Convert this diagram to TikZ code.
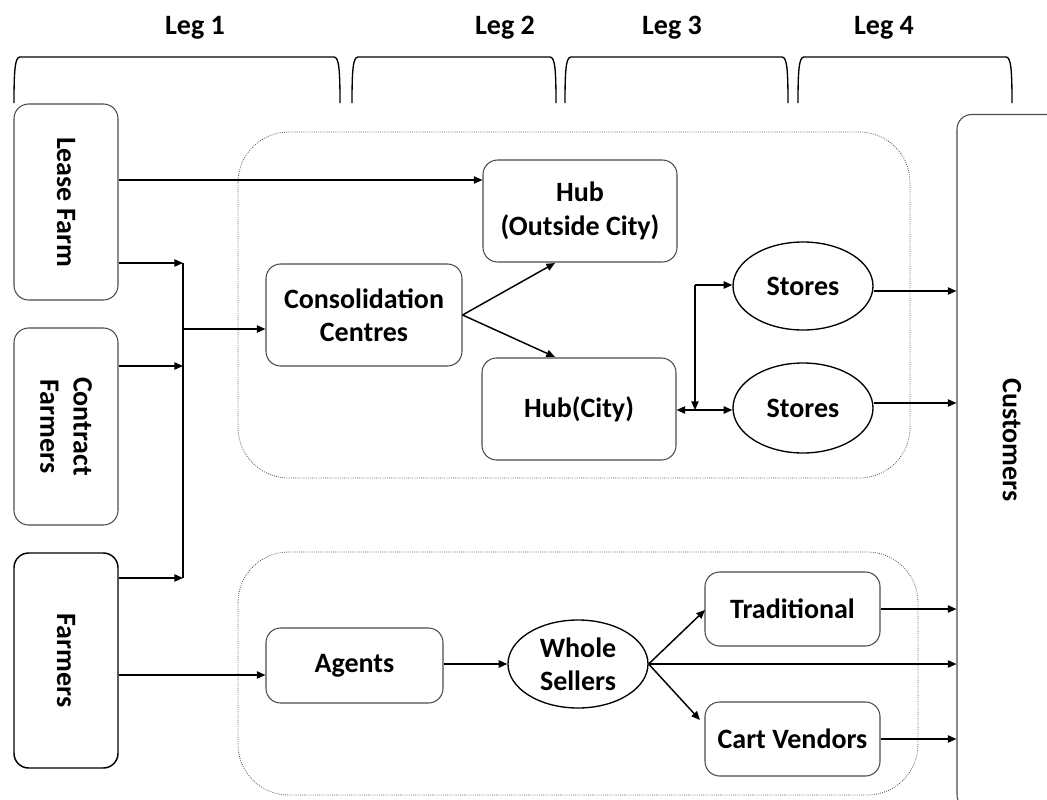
\documentclass[tikz,border=0pt]{standalone}
\usepackage{fontspec}
\setmainfont{Carlito}
\usetikzlibrary{arrows.meta,shapes.geometric}
\begin{document}
\begin{tikzpicture}[x=0.75pt,y=-0.75pt,
  every node/.style={font=\bfseries\fontsize{21}{25}\selectfont, align=center, inner sep=0pt},
  rbox/.style={draw=black!70, line width=0.8pt, rounded corners=11pt, rectangle},
  ell/.style={draw=black, line width=1pt, ellipse},
  grp/.style={draw=black!70, densely dotted, line width=0.6pt, rounded corners=38pt},
  brace/.style={draw=black, line width=1pt},
  arr/.style={draw=black, line width=1.1pt, -{Triangle[length=6.5pt,width=5.5pt]}},
  darr/.style={draw=black, line width=1.1pt, {Triangle[length=6.5pt,width=5.5pt]}-{Triangle[length=6.5pt,width=5.5pt]}}]
\useasboundingbox (0,0) rectangle (1047,800);
\clip (0,0) rectangle (1047,800);
% leg labels
\node (leg1) at (195,28) {Leg 1};
\node (leg2) at (505,28) {Leg 2};
\node (leg3) at (672,28) {Leg 3};
\node (leg4) at (884,28) {Leg 4};
% braces
\foreach \a/\b in {14/340, 352/556, 565/788, 798/1012}{
  \draw[brace] (\a,103) .. controls (\a,70) and (\a+1,57) .. (\a+6,57) -- (\b-6,57) .. controls (\b-1,57) and (\b,70) .. (\b,103);
}
% group boxes
\draw[grp] (238,132) rectangle (910,478);
\draw[grp] (238,552) rectangle (918,795);
% left sources
\node[rbox, minimum width=104*0.75pt, minimum height=196*0.75pt] (lease) at (66,202) {};
\node[rotate=-90] at (66,202) {Lease Farm};
\node[rbox, minimum width=104*0.75pt, minimum height=197*0.75pt] (contract) at (66,426.5) {};
\node[rotate=-90] at (66,426.5) {Contract\\Farmers};
\node[rbox, draw=black, line width=1.1pt, minimum width=104*0.75pt, minimum height=215*0.75pt] (farmers) at (66,660.5) {};
\node[rotate=-90] at (66,660.5) {Farmers};
% customers
\node[rbox, minimum width=130*0.75pt, minimum height=695*0.75pt] (cust) at (1022,462) {};
\node[rotate=-90] at (1012,440) {Customers};
% top group nodes
\node[rbox, minimum width=194*0.75pt, minimum height=102*0.75pt] (hubo) at (580,211) {Hub\\(Outside City)};
\node[rbox, minimum width=196*0.75pt, minimum height=102*0.75pt] (cons) at (364,315) {Consolidation\\Centres};
\node[rbox, minimum width=194*0.75pt, minimum height=102*0.75pt] (hubc) at (579,409) {Hub(City)};
\node[ell, minimum width=140*0.75pt, minimum height=88*0.75pt] (st1) at (803,286) {Stores};
\node[ell, minimum width=140*0.75pt, minimum height=90*0.75pt] (st2) at (803,408) {Stores};
% bottom group nodes
\node[rbox, minimum width=177*0.75pt, minimum height=75*0.75pt] (agents) at (354.5,665.5) {Agents};
\node[ell, minimum width=140*0.75pt, minimum height=88*0.75pt] (whole) at (578,664) {Whole\\Sellers};
\node[rbox, minimum width=175*0.75pt, minimum height=74*0.75pt] (trad) at (792.5,609) {Traditional};
\node[rbox, minimum width=175*0.75pt, minimum height=74*0.75pt] (cart) at (792.5,739) {Cart Vendors};
% bus
\coordinate (b1) at (183,263);
\coordinate (b2) at (183,366);
\coordinate (b3) at (183,578);
\coordinate (bm) at (183,329);
\draw[line width=1.1pt] (b1) -- (b3);
\draw[arr] (lease.east |- b1) -- (b1);
\draw[arr] (contract.east |- b2) -- (b2);
\draw[arr] (farmers.east |- b3) -- (b3);
\draw[arr] (bm) -- (cons.west |- bm);
\draw[arr] (lease.east |- 0,180) -- (hubo.west |- 0,180);
\draw[arr] (farmers.east |- 0,675) -- (agents.west |- 0,675);
% consolidation to hubs
\coordinate (ho) at (555,263);
\coordinate (hc) at (555,357);
\draw[arr] (cons.east) -- (ho);
\draw[arr] (cons.east) -- (hc);
% hub city to stores
\coordinate (vt) at (695,285);
\coordinate (vb) at (695,410);
\draw[darr] (hubc.east |- vb) -- (st2.west |- vb);
\draw[arr] (vt) -- (vb);
\draw[arr] (vt) -- (st1.west |- vt);
\draw[arr] (st1.east |- 0,291) -- (cust.west |- 0,291);
\draw[arr] (st2.east |- 0,403) -- (cust.west |- 0,403);
% bottom flows
\draw[arr] (agents.east |- whole.west) -- (whole.west);
\coordinate (tr) at (705,610);
\coordinate (cv) at (700,720);
\draw[arr] (whole.east) -- (tr);
\draw[arr] (whole.east) -- (cv);
\draw[arr] (whole.east) -- (cust.west |- whole.east);
\draw[arr] (trad.east) -- (cust.west |- trad.east);
\draw[arr] (cart.east) -- (cust.west |- cart.east);
\end{tikzpicture}
\end{document}
